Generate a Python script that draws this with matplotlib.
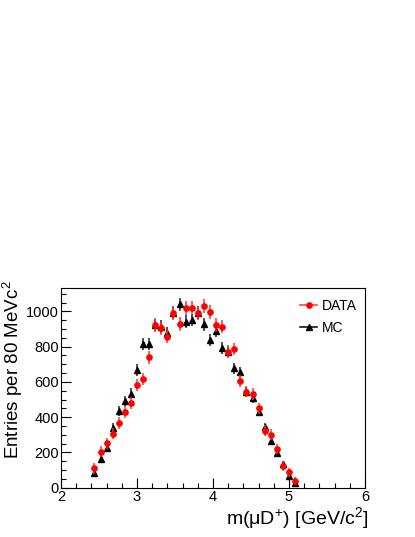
import numpy as np
import matplotlib
matplotlib.use("Agg")
import matplotlib.pyplot as plt
from matplotlib.lines import Line2D
from matplotlib.ticker import MultipleLocator

plt.rcParams['font.family'] = ['Liberation Sans', 'DejaVu Sans']
plt.rcParams['mathtext.fontset'] = 'custom'
plt.rcParams['mathtext.rm'] = 'Liberation Sans'
plt.rcParams['mathtext.it'] = 'Liberation Sans:italic'

# bin centres, 80 MeV bins
mass = [2.44, 2.52, 2.60, 2.68, 2.76, 2.84, 2.92, 3.00, 3.08, 3.16, 3.24, 3.32,
        3.40, 3.48, 3.56, 3.64, 3.72, 3.80, 3.88, 3.96, 4.04, 4.12, 4.20, 4.28,
        4.36, 4.44, 4.52, 4.60, 4.68, 4.76, 4.84, 4.92, 5.00, 5.08]
data = [110, 204, 252, 306, 367, 431, 480, 581, 615, 740, 923, 904,
        857, 993, 927, 1021, 1018, 989, 1032, 995, 923, 913, 771, 787,
        607, 545, 531, 450, 323, 301, 218, 123, 87, 36]
data_err = [30, 30, 30, 32, 32, 33, 33, 35, 35, 36, 38, 38,
            38, 40, 40, 40, 40, 40, 40, 40, 38, 38, 36, 36,
            35, 33, 33, 32, 30, 30, 28, 26, 24, 22]
mc = [85, 163, 227, 340, 437, 494, 533, 668, 813, 815, 923, 913,
      879, 993, 1040, 942, 951, 993, 927, 836, 890, 794, 771, 677,
      655, 545, 507, 431, 342, 265, 195, 133, 68, 25]
mc_err = [22, 24, 25, 27, 28, 29, 30, 32, 34, 34, 36, 36,
          35, 37, 38, 36, 36, 37, 36, 34, 35, 33, 32, 31,
          30, 28, 27, 26, 24, 22, 20, 18, 15, 12]

fig = plt.figure(figsize=(4.15, 5.37), dpi=100)
ax = fig.add_axes([0.147, 0.0918, 0.7325, 0.3713])

ax.errorbar(mass, data, yerr=data_err, fmt='o', color='#ff0000', ecolor='#ff3030',
            elinewidth=1.1, markersize=3.8, capsize=0, zorder=3)
ax.errorbar(mass, mc, yerr=mc_err, fmt='^', color='black', ecolor='#202020',
            elinewidth=1.1, markersize=3.8, capsize=0, zorder=2)

ax.set_xlim(2, 6)
ax.set_ylim(0, 1131)
ax.xaxis.set_major_locator(MultipleLocator(1))
ax.xaxis.set_minor_locator(MultipleLocator(0.2))
ax.yaxis.set_major_locator(MultipleLocator(200))
ax.yaxis.set_minor_locator(MultipleLocator(50))
ax.tick_params(which='both', direction='in', top=False, right=False,
               labelsize=10.5, width=0.8)
ax.tick_params(which='major', length=7)
ax.tick_params(which='minor', length=3.5)
ax.tick_params(axis='x', pad=2)
ax.tick_params(axis='y', pad=1.5)

ax.set_xlabel(r'm(μD$^{+}$) [GeV/c$^{2}$]', fontsize=14, loc='right')
ax.xaxis.set_label_coords(1.01, -0.085)
ax.set_ylabel(r'Entries per 80 MeVc$^{2}$', fontsize=13.5, loc='top')
ax.yaxis.set_label_coords(-0.117, 1.042)

handles = [Line2D([], [], color='#ff3030', marker='o', markerfacecolor='#ff0000',
                  markeredgecolor='#ff0000', markersize=3.8, lw=1.1),
           Line2D([], [], color='black', marker='^', markersize=3.8, lw=1.1)]
ax.legend(handles, ['DATA', 'MC'], loc='upper left', bbox_to_anchor=(0.786, 0.945),
          frameon=False, fontsize=10, handlelength=1.25, handletextpad=0.35,
          labelspacing=0.55, borderpad=0, borderaxespad=0)

fig.savefig('out.png', dpi=100)
